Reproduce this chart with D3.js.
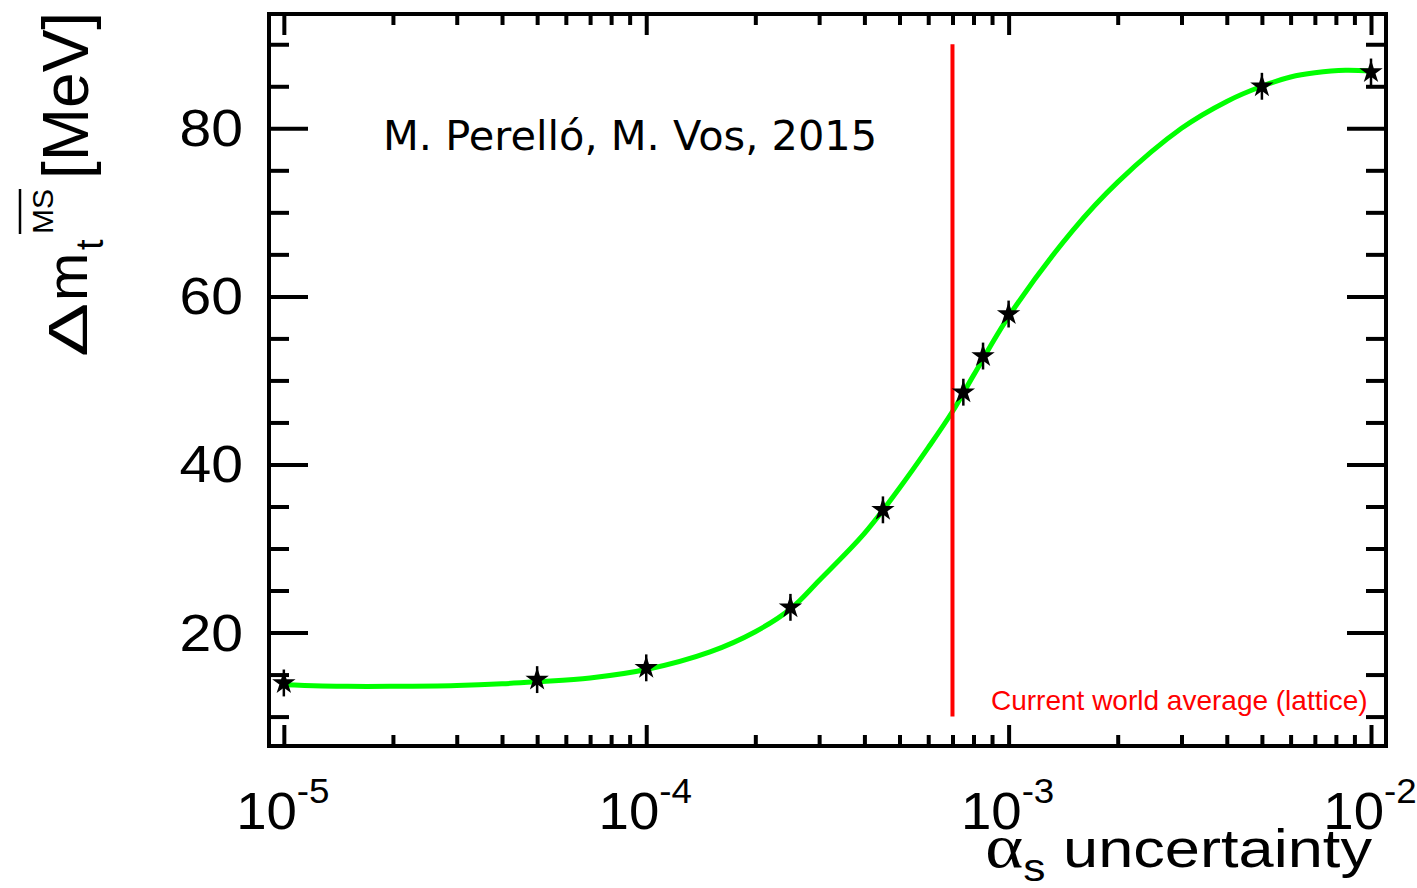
<!DOCTYPE html>
<html>
<head>
<meta charset="utf-8">
<script src="https://cdn.jsdelivr.net/npm/d3@7"></script>
<style>
  html, body { margin: 0; padding: 0; background: #fff; }
  svg { display: block; }
</style>
</head>
<body>
<svg id="chart" width="1417" height="888"></svg>
<script>
// ---------- data ----------
const pointX   = [1e-5, 5e-5, 1e-4, 2.5e-4, 4.5e-4, 7.5e-4, 8.5e-4, 1e-3, 5e-3, 1e-2];
const pointY   = [14.0, 14.4, 15.8, 23.0, 34.6, 48.6, 52.9, 57.9, 85.0, 86.7];
const pointErr = [1.6, 1.6, 1.6, 1.6, 1.6, 1.6, 1.6, 1.6, 1.6, 1.6];

const curveX = [1e-5, 1.5e-5, 2e-5, 3e-5, 4e-5, 5e-5, 7e-5, 1e-4, 1.5e-4, 2e-4, 2.5e-4, 3e-4, 4e-4, 5e-4, 6e-4, 7e-4, 8e-4, 1e-3, 1.5e-3, 2e-3, 3e-3, 4e-3, 5e-3, 6e-3, 7e-3, 8.5e-3, 1e-2];
const curveY = [13.8, 13.6, 13.6, 13.7, 13.9, 14.15, 14.6, 15.6, 17.7, 20.1, 22.8, 26.2, 31.8, 37.2, 42.0, 46.3, 50.6, 57.6, 67.8, 73.6, 80.0, 83.2, 85.0, 86.1, 86.6, 86.9, 86.8];

const worldAvgX = 7e-4;
const worldAvgRange = [10, 90];

const yMajorTicks = [20, 40, 60, 80];
const yMinorTicks = [10, 15, 25, 30, 35, 45, 50, 55, 65, 70, 75, 85, 90];
const xMajorTicks = [1e-5, 1e-4, 1e-3, 1e-2];
const xExponents  = ["-5", "-4", "-3", "-2"];
const xMinorMult  = [2, 3, 4, 5, 6, 7, 8, 9];

const annotation = "M. Perelló, M. Vos, 2015";
const lineLabel  = "Current world average (lattice)";

// ---------- layout ----------
const svg = d3.select("#chart");
const L = 269, R = 1386, T = 14, B = 746;
const x = d3.scaleLog().domain([9.1e-6, 1.1e-2]).range([L, R]);
const y = d3.scaleLinear().domain([6.5, 93.6]).range([B, T]);
const rootFont = "'Liberation Sans', Arial, Helvetica, sans-serif";

svg.append("rect").attr("width", 1417).attr("height", 888).attr("fill", "#fff");

const xMinor = [];
xMajorTicks.slice(0, 3).forEach(d => xMinorMult.forEach(m => xMinor.push(d * m)));

function styleAxis(g) {
  g.select(".domain").remove();
  g.selectAll(".tick line").attr("stroke", "#000").attr("stroke-width", 4);
  g.selectAll(".tick text").remove();
}
function addAxis(axis, tx, ty) {
  svg.append("g").attr("transform", `translate(${tx},${ty})`).call(axis).call(styleAxis);
}
addAxis(d3.axisBottom(x).tickValues(xMajorTicks).tickSizeInner(-21).tickSizeOuter(0).tickFormat(""), 0, B);
addAxis(d3.axisBottom(x).tickValues(xMinor).tickSizeInner(-11).tickSizeOuter(0).tickFormat(""), 0, B);
addAxis(d3.axisTop(x).tickValues(xMajorTicks).tickSizeInner(-21).tickSizeOuter(0).tickFormat(""), 0, T);
addAxis(d3.axisTop(x).tickValues(xMinor).tickSizeInner(-11).tickSizeOuter(0).tickFormat(""), 0, T);
addAxis(d3.axisLeft(y).tickValues(yMajorTicks).tickSizeInner(-39).tickSizeOuter(0).tickFormat(""), L, 0);
addAxis(d3.axisLeft(y).tickValues(yMinorTicks).tickSizeInner(-20).tickSizeOuter(0).tickFormat(""), L, 0);
addAxis(d3.axisRight(y).tickValues(yMajorTicks).tickSizeInner(-39).tickSizeOuter(0).tickFormat(""), R, 0);
addAxis(d3.axisRight(y).tickValues(yMinorTicks).tickSizeInner(-20).tickSizeOuter(0).tickFormat(""), R, 0);

// frame
svg.append("rect").attr("x", L).attr("y", T).attr("width", R - L).attr("height", B - T)
  .attr("fill", "none").attr("stroke", "#000").attr("stroke-width", 4);

// y tick labels
yMajorTicks.forEach(v => {
  svg.append("g").attr("transform", `translate(243,${y(v) + 18}) scale(1.12,1)`)
    .append("text").attr("text-anchor", "end")
    .attr("font-family", rootFont).attr("font-size", 51).attr("fill", "#000")
    .text(v);
});

// x tick labels
xMajorTicks.forEach((v, i) => {
  const t = svg.append("g").attr("transform", `translate(${x(v) - 1},829) scale(1.05,1)`)
    .append("text").attr("text-anchor", "middle")
    .attr("font-family", rootFont).attr("fill", "#000");
  t.append("tspan").attr("font-size", 52).text("10");
  t.append("tspan").attr("font-size", 35).attr("dy", -26).text(xExponents[i]);
});

// curve
const line = d3.line().x(d => x(d[0])).y(d => y(d[1])).curve(d3.curveCatmullRom.alpha(0.5));
svg.append("path").datum(curveX.map((v, i) => [v, curveY[i]]))
  .attr("d", line).attr("fill", "none").attr("stroke", "#00ff00").attr("stroke-width", 5);

// red line
svg.append("line")
  .attr("x1", x(worldAvgX)).attr("x2", x(worldAvgX))
  .attr("y1", y(worldAvgRange[0])).attr("y2", y(worldAvgRange[1]))
  .attr("stroke", "#ff0000").attr("stroke-width", 4);

// points
const pts = svg.append("g");
pointX.forEach((v, i) => {
  pts.append("line").attr("x1", x(v)).attr("x2", x(v))
    .attr("y1", y(pointY[i] - pointErr[i])).attr("y2", y(pointY[i] + pointErr[i]))
    .attr("stroke", "#000").attr("stroke-width", 2.5);
  pts.append("path").attr("d", d3.symbol(d3.symbolStar, 170)())
    .attr("transform", `translate(${x(v)},${y(pointY[i])})`).attr("fill", "#000");
});

// annotation
svg.append("text").attr("x", 383).attr("y", 150)
  .attr("font-family", "'DejaVu Sans', sans-serif").attr("font-size", 41.5).attr("fill", "#000")
  .text(annotation);

svg.append("text").attr("x", 991).attr("y", 710)
  .attr("font-family", rootFont).attr("font-size", 28).attr("fill", "#ff0000")
  .text(lineLabel);

// x axis title
const xt = svg.append("g").attr("transform", `translate(1372,867) scale(1.17,1)`)
  .append("text").attr("text-anchor", "end").attr("font-family", rootFont).attr("fill", "#000");
xt.append("tspan").attr("font-size", 62).attr("font-family", "'Liberation Serif', 'DejaVu Serif', serif").text("α");
xt.append("tspan").attr("font-size", 38).attr("dy", 14).text("s");
xt.append("tspan").attr("font-size", 54).attr("dy", -14).text(" uncertainty");

// y axis title (rotated; local x = along text, local y = across)
const yg = svg.append("g").attr("transform", `translate(87,357) rotate(-90)`);
yg.append("text").attr("x", 0).attr("y", 0).attr("transform", "scale(1.45,1)")
  .attr("font-family", rootFont).attr("font-size", 56).attr("fill", "#000").text("Δ");
yg.append("text").attr("x", 56).attr("y", 0).attr("transform", "translate(0,0)")
  .attr("font-family", rootFont).attr("font-size", 58).attr("fill", "#000").text("m");
yg.append("text").attr("x", 107).attr("y", 16)
  .attr("font-family", rootFont).attr("font-size", 38).attr("fill", "#000").text("t");
const msText = yg.append("text").attr("x", 123).attr("y", -34)
  .attr("font-family", rootFont).attr("font-size", 30).attr("fill", "#000").text("MS");
yg.append("text").attr("x", 178).attr("y", 1)
  .attr("font-family", rootFont).attr("font-size", 64).attr("fill", "#000").text("[MeV]");
const bb = msText.node().getBBox();
yg.append("line").attr("x1", bb.x).attr("x2", bb.x + bb.width)
  .attr("y1", -67).attr("y2", -67).attr("stroke", "#000").attr("stroke-width", 2.5);
</script>
</body>
</html>
